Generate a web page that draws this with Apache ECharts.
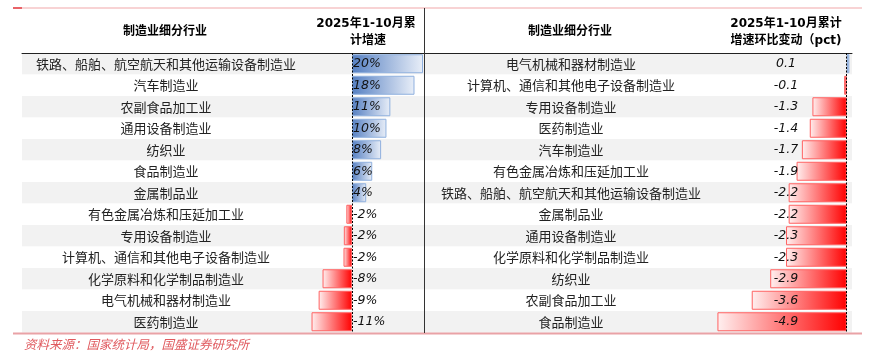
<!DOCTYPE html>
<html>
<head>
<meta charset="utf-8">
<script src="https://cdn.jsdelivr.net/npm/echarts@6/dist/echarts.min.js"></script>
<style>
  html, body { margin: 0; padding: 0; background: #fff; }
  #chart { width: 887px; height: 364px; }
</style>
</head>
<body>
<div id="chart"></div>
<script>
// 左表：2025年1-10月累计增速（%）
const leftNames = [
  "铁路、船舶、航空航天和其他运输设备制造业", "汽车制造业", "农副食品加工业", "通用设备制造业",
  "纺织业", "食品制造业", "金属制品业", "有色金属冶炼和压延加工业", "专用设备制造业",
  "计算机、通信和其他电子设备制造业", "化学原料和化学制品制造业", "电气机械和器材制造业", "医药制造业"
];
const leftValues = [20.0, 17.6, 10.8, 9.7, 8.2, 5.7, 4.0, -1.6, -2.3, -2.4, -8.3, -9.4, -11.4];

// 右表：累计增速环比变动（pct）
const rightNames = [
  "电气机械和器材制造业", "计算机、通信和其他电子设备制造业", "专用设备制造业", "医药制造业",
  "汽车制造业", "有色金属冶炼和压延加工业", "铁路、船舶、航空航天和其他运输设备制造业",
  "金属制品业", "通用设备制造业", "化学原料和化学制品制造业", "纺织业", "农副食品加工业", "食品制造业"
];
const rightValues = [0.1, -0.1, -1.3, -1.4, -1.7, -1.9, -2.2, -2.2, -2.3, -2.3, -2.9, -3.6, -4.9];

const CJK = '"Noto Sans CJK SC", sans-serif';
const NUM = '"DejaVu Sans", sans-serif';

const chart = echarts.init(document.getElementById("chart"), null, { renderer: "canvas" });

const blueFill = new echarts.graphic.LinearGradient(0, 0, 1, 0, [
  { offset: 0, color: "#5680c2" },
  { offset: 1, color: "#e8eef8" },
]);
const redFill = new echarts.graphic.LinearGradient(0, 0, 1, 0, [
  { offset: 0, color: "#fff0f0" },
  { offset: 1, color: "#ff0000" },
]);

const barData = (vals) =>
  vals.map((v) => ({
    value: v,
    itemStyle: v >= 0
      ? { color: blueFill, borderColor: "#8fb0de", borderWidth: 1 }
      : { color: redFill, borderColor: "#ff6262", borderWidth: 1 },
  }));

const zeroLine = {
  silent: true,
  symbol: "none",
  label: { show: false },
  lineStyle: { color: "#000", type: [2, 1.5], width: 1 },
  data: [{ xAxis: 0 }],
};

const nameAxis = (names, gridIndex, margin) => ({
  type: "category",
  gridIndex,
  data: names,
  inverse: true,
  axisLine: { show: false },
  axisTick: { show: false },
  splitArea: { show: true, areaStyle: { color: ["#f2f2f2", "#ffffff"] } },
  axisLabel: {
    inside: true,
    align: "center",
    margin,
    color: "#222",
    fontSize: 13,
    fontFamily: CJK,
  },
});

const valueAxis = (labels, gridIndex, align, margin) => ({
  type: "category",
  gridIndex,
  position: "right",
  data: labels,
  inverse: true,
  axisLine: { show: false },
  axisTick: { show: false },
  splitLine: { show: false },
  axisLabel: {
    inside: true,
    align,
    margin,
    color: "#111",
    fontSize: 12.5,
    fontStyle: "italic",
    fontFamily: NUM,
  },
  z: 10,
});

const headText = (x, y, text) => ({
  type: "text",
  x, y,
  style: {
    text,
    align: "center",
    verticalAlign: "middle",
    fill: "#000",
    font: 'bold 12px "DejaVu Sans", "Noto Sans CJK SC", sans-serif',
  },
});

chart.setOption({
  animation: false,
  grid: [
    { left: 22, width: 402, top: 53, height: 279.5 },
    { left: 424, width: 428, top: 53, height: 279.5 },
  ],
  xAxis: [
    {
      type: "value", gridIndex: 0, position: "top", min: -92.96, max: 20.28,
      axisLine: { show: true, onZero: false, lineStyle: { color: "#222", width: 1 } },
      axisTick: { show: false }, axisLabel: { show: false }, splitLine: { show: false },
    },
    {
      type: "value", gridIndex: 1, position: "top", min: -16.02, max: 0.2,
      axisLine: { show: true, onZero: false, lineStyle: { color: "#222", width: 1 } },
      axisTick: { show: false }, axisLabel: { show: false }, splitLine: { show: false },
    },
  ],
  yAxis: [
    nameAxis(leftNames, 0, 144),
    valueAxis(leftValues.map((v) => v.toFixed(0) + "%"), 0, "left", 71),
    nameAxis(rightNames, 1, 147),
    valueAxis(rightValues.map((v) => v.toFixed(1)), 1, "center", 66),
  ],
  series: [
    {
      type: "bar", xAxisIndex: 0, yAxisIndex: 0,
      barWidth: 19, data: barData(leftValues), markLine: zeroLine,
    },
    {
      type: "bar", xAxisIndex: 1, yAxisIndex: 2,
      barWidth: 19, data: barData(rightValues), markLine: zeroLine,
    },
  ],
  graphic: [
    { type: "line", shape: { x1: 13, y1: 8, x2: 862, y2: 8 }, style: { stroke: "#f6c4c6", lineWidth: 1.5 } },
    { type: "line", shape: { x1: 13, y1: 8, x2: 22, y2: 8 }, style: { stroke: "#e53e45", lineWidth: 1.5 } },
    { type: "line", shape: { x1: 13, y1: 333.5, x2: 862, y2: 333.5 }, style: { stroke: "#e9a2a6", lineWidth: 2 }, z: 20 },
    { type: "line", shape: { x1: 424.5, y1: 8, x2: 424.5, y2: 333 }, style: { stroke: "#333", lineWidth: 1 }, z: 20 },
    headText(165, 32, "制造业细分行业"),
    headText(366, 24, "2025年1-10月累"),
    headText(368, 41, "计增速"),
    headText(570, 32, "制造业细分行业"),
    headText(786, 24, "2025年1-10月累计"),
    headText(786, 41, "增速环比变动（pct)"),
    {
      type: "text",
      x: 24, y: 344,
      style: {
        text: "资料来源：国家统计局，国盛证券研究所",
        align: "left",
        verticalAlign: "middle",
        fill: "#e05a5f",
        font: 'italic 12.5px "Noto Sans CJK SC", sans-serif',
      },
    },
  ],
});
</script>
</body>
</html>
